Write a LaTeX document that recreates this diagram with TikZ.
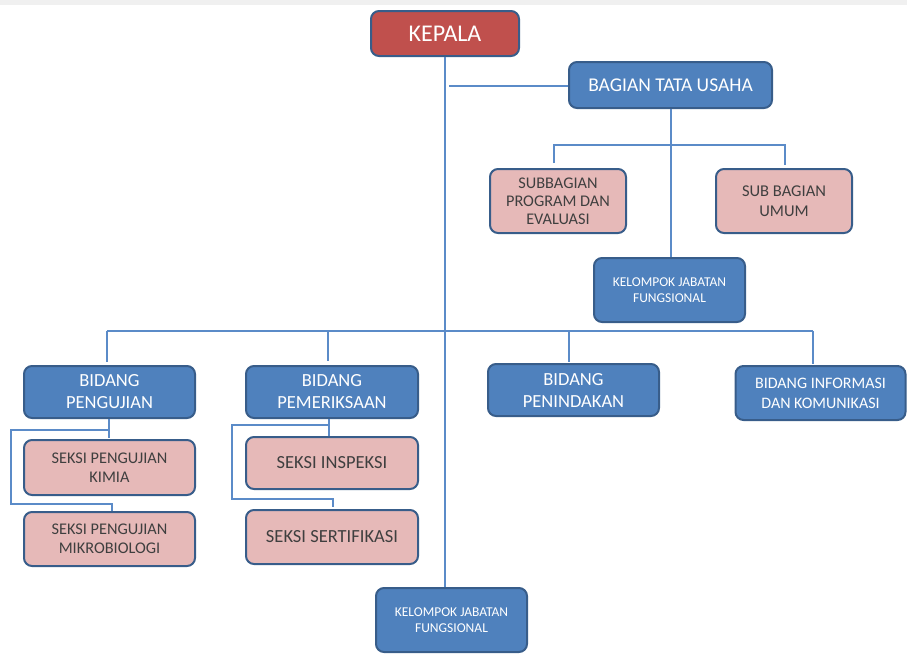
\documentclass[tikz,border=0pt]{standalone}
\usepackage{fontspec}
\setmainfont{Carlito}
\definecolor{boxblue}{HTML}{4F81BD}
\definecolor{boxborder}{HTML}{385D8A}
\definecolor{boxred}{HTML}{C0504D}
\definecolor{boxpink}{HTML}{E6B9B8}
\definecolor{linkblue}{HTML}{5B8BC8}
\definecolor{pinktext}{HTML}{3F3F3F}
\begin{document}
\begin{tikzpicture}[x=1pt,y=-1pt,
  base/.style={draw=boxborder,line width=2pt,rounded corners=8pt,align=center,inner sep=0pt},
  redbox/.style={base,fill=boxred,text=white},
  bluebox/.style={base,fill=boxblue,text=white},
  pinkbox/.style={base,fill=boxpink,text=pinktext},
  link/.style={draw=linkblue,line width=1.3pt}]
\useasboundingbox (0,0) rectangle (907,657);
\fill[black!6] (0,0) rectangle (907,5);
% nodes
\node[redbox,minimum width=148pt,minimum height=45pt,font=\fontsize{24}{27}\selectfont] (kepala) at (445,33.5) {KEPALA};
\node[bluebox,minimum width=203pt,minimum height=46pt,font=\fontsize{19.5}{22}\selectfont] (btu) at (670.5,85) {BAGIAN TATA USAHA};
\node[pinkbox,minimum width=136pt,minimum height=64pt,font=\fontsize{16.3}{18}\selectfont] (sub1) at (558,201) {SUBBAGIAN\\PROGRAM DAN\\EVALUASI};
\node[pinkbox,minimum width=136pt,minimum height=64pt,font=\fontsize{16.5}{20}\selectfont] (sub2) at (784,201) {SUB BAGIAN\\UMUM};
\node[bluebox,minimum width=151pt,minimum height=64pt,font=\fontsize{13.5}{16}\selectfont] (kjf1) at (669.5,290) {KELOMPOK JABATAN\\FUNGSIONAL};
\node[bluebox,minimum width=171pt,minimum height=52pt,font=\fontsize{18.5}{22}\selectfont] (bp) at (109.5,392) {BIDANG\\PENGUJIAN};
\node[bluebox,minimum width=172pt,minimum height=52pt,font=\fontsize{18.5}{22}\selectfont] (bpm) at (332,392) {BIDANG\\PEMERIKSAAN};
\node[bluebox,minimum width=171pt,minimum height=52pt,font=\fontsize{18.5}{22}\selectfont] (bpn) at (573.5,390) {BIDANG\\PENINDAKAN};
\node[bluebox,minimum width=170pt,minimum height=54pt,font=\fontsize{16}{20}\selectfont] (bik) at (820.5,393) {BIDANG INFORMASI\\DAN KOMUNIKASI};
\node[pinkbox,minimum width=171pt,minimum height=55pt,font=\fontsize{16.3}{19}\selectfont] (kimia) at (109.5,467.5) {SEKSI PENGUJIAN\\KIMIA};
\node[pinkbox,minimum width=171pt,minimum height=54pt,font=\fontsize{16.3}{19}\selectfont] (mikro) at (109.5,539) {SEKSI PENGUJIAN\\MIKROBIOLOGI};
\node[pinkbox,minimum width=172pt,minimum height=52pt,font=\fontsize{18.5}{22}\selectfont] (insp) at (332,463) {SEKSI INSPEKSI};
\node[pinkbox,minimum width=172pt,minimum height=54pt,font=\fontsize{18.5}{22}\selectfont] (sert) at (332,537) {SEKSI SERTIFIKASI};
\node[bluebox,minimum width=151pt,minimum height=64pt,font=\fontsize{13.5}{16}\selectfont] (kjf2) at (451.5,620) {KELOMPOK JABATAN\\FUNGSIONAL};
% connector coordinates
\coordinate (tuStart) at (449,86);
\coordinate (tuL) at (554,145);
\coordinate (tuR) at (785,145);
\coordinate (tuLd) at (554,163);
\coordinate (tuRd) at (785,165);
\coordinate (busL) at (107,331);
\coordinate (busR) at (813,331);
\coordinate (d1) at (107,362);
\coordinate (d2) at (328,361);
\coordinate (d3) at (569,362);
\coordinate (d4) at (813,364);
\coordinate (a1) at (109,430);
\coordinate (a2) at (11,430);
\coordinate (a3) at (11,504);
\coordinate (a4) at (112,504);
\coordinate (a5) at (112,511);
\coordinate (a6) at (109,438);
\coordinate (b1) at (329,425);
\coordinate (b2) at (232,425);
\coordinate (b3) at (232,499);
\coordinate (b4) at (333,499);
\coordinate (b5) at (333,507);
\coordinate (b6) at (329,436);
% connectors
\draw[link] (kepala.south) -- (kepala.south |- kjf2.north);
\draw[link] (tuStart) -- (btu.west |- tuStart);
\draw[link] (btu.south -| 671,0) -- (671,0 |- kjf1.north);
\draw[link] (tuLd) -- (tuL) -- (tuR) -- (tuRd);
\draw[link] (busL) -- (busR);
\draw[link] (busL) -- (d1);
\draw[link] (d2 |- busL) -- (d2);
\draw[link] (d3 |- busL) -- (d3);
\draw[link] (busR) -- (d4);
\draw[link] (bp.south -| a1) -- (a6);
\draw[link] (a1) -- (a2) -- (a3) -- (a4) -- (a5);
\draw[link] (bpm.south -| b1) -- (b6);
\draw[link] (b1) -- (b2) -- (b3) -- (b4) -- (b5);
\end{tikzpicture}
\end{document}
